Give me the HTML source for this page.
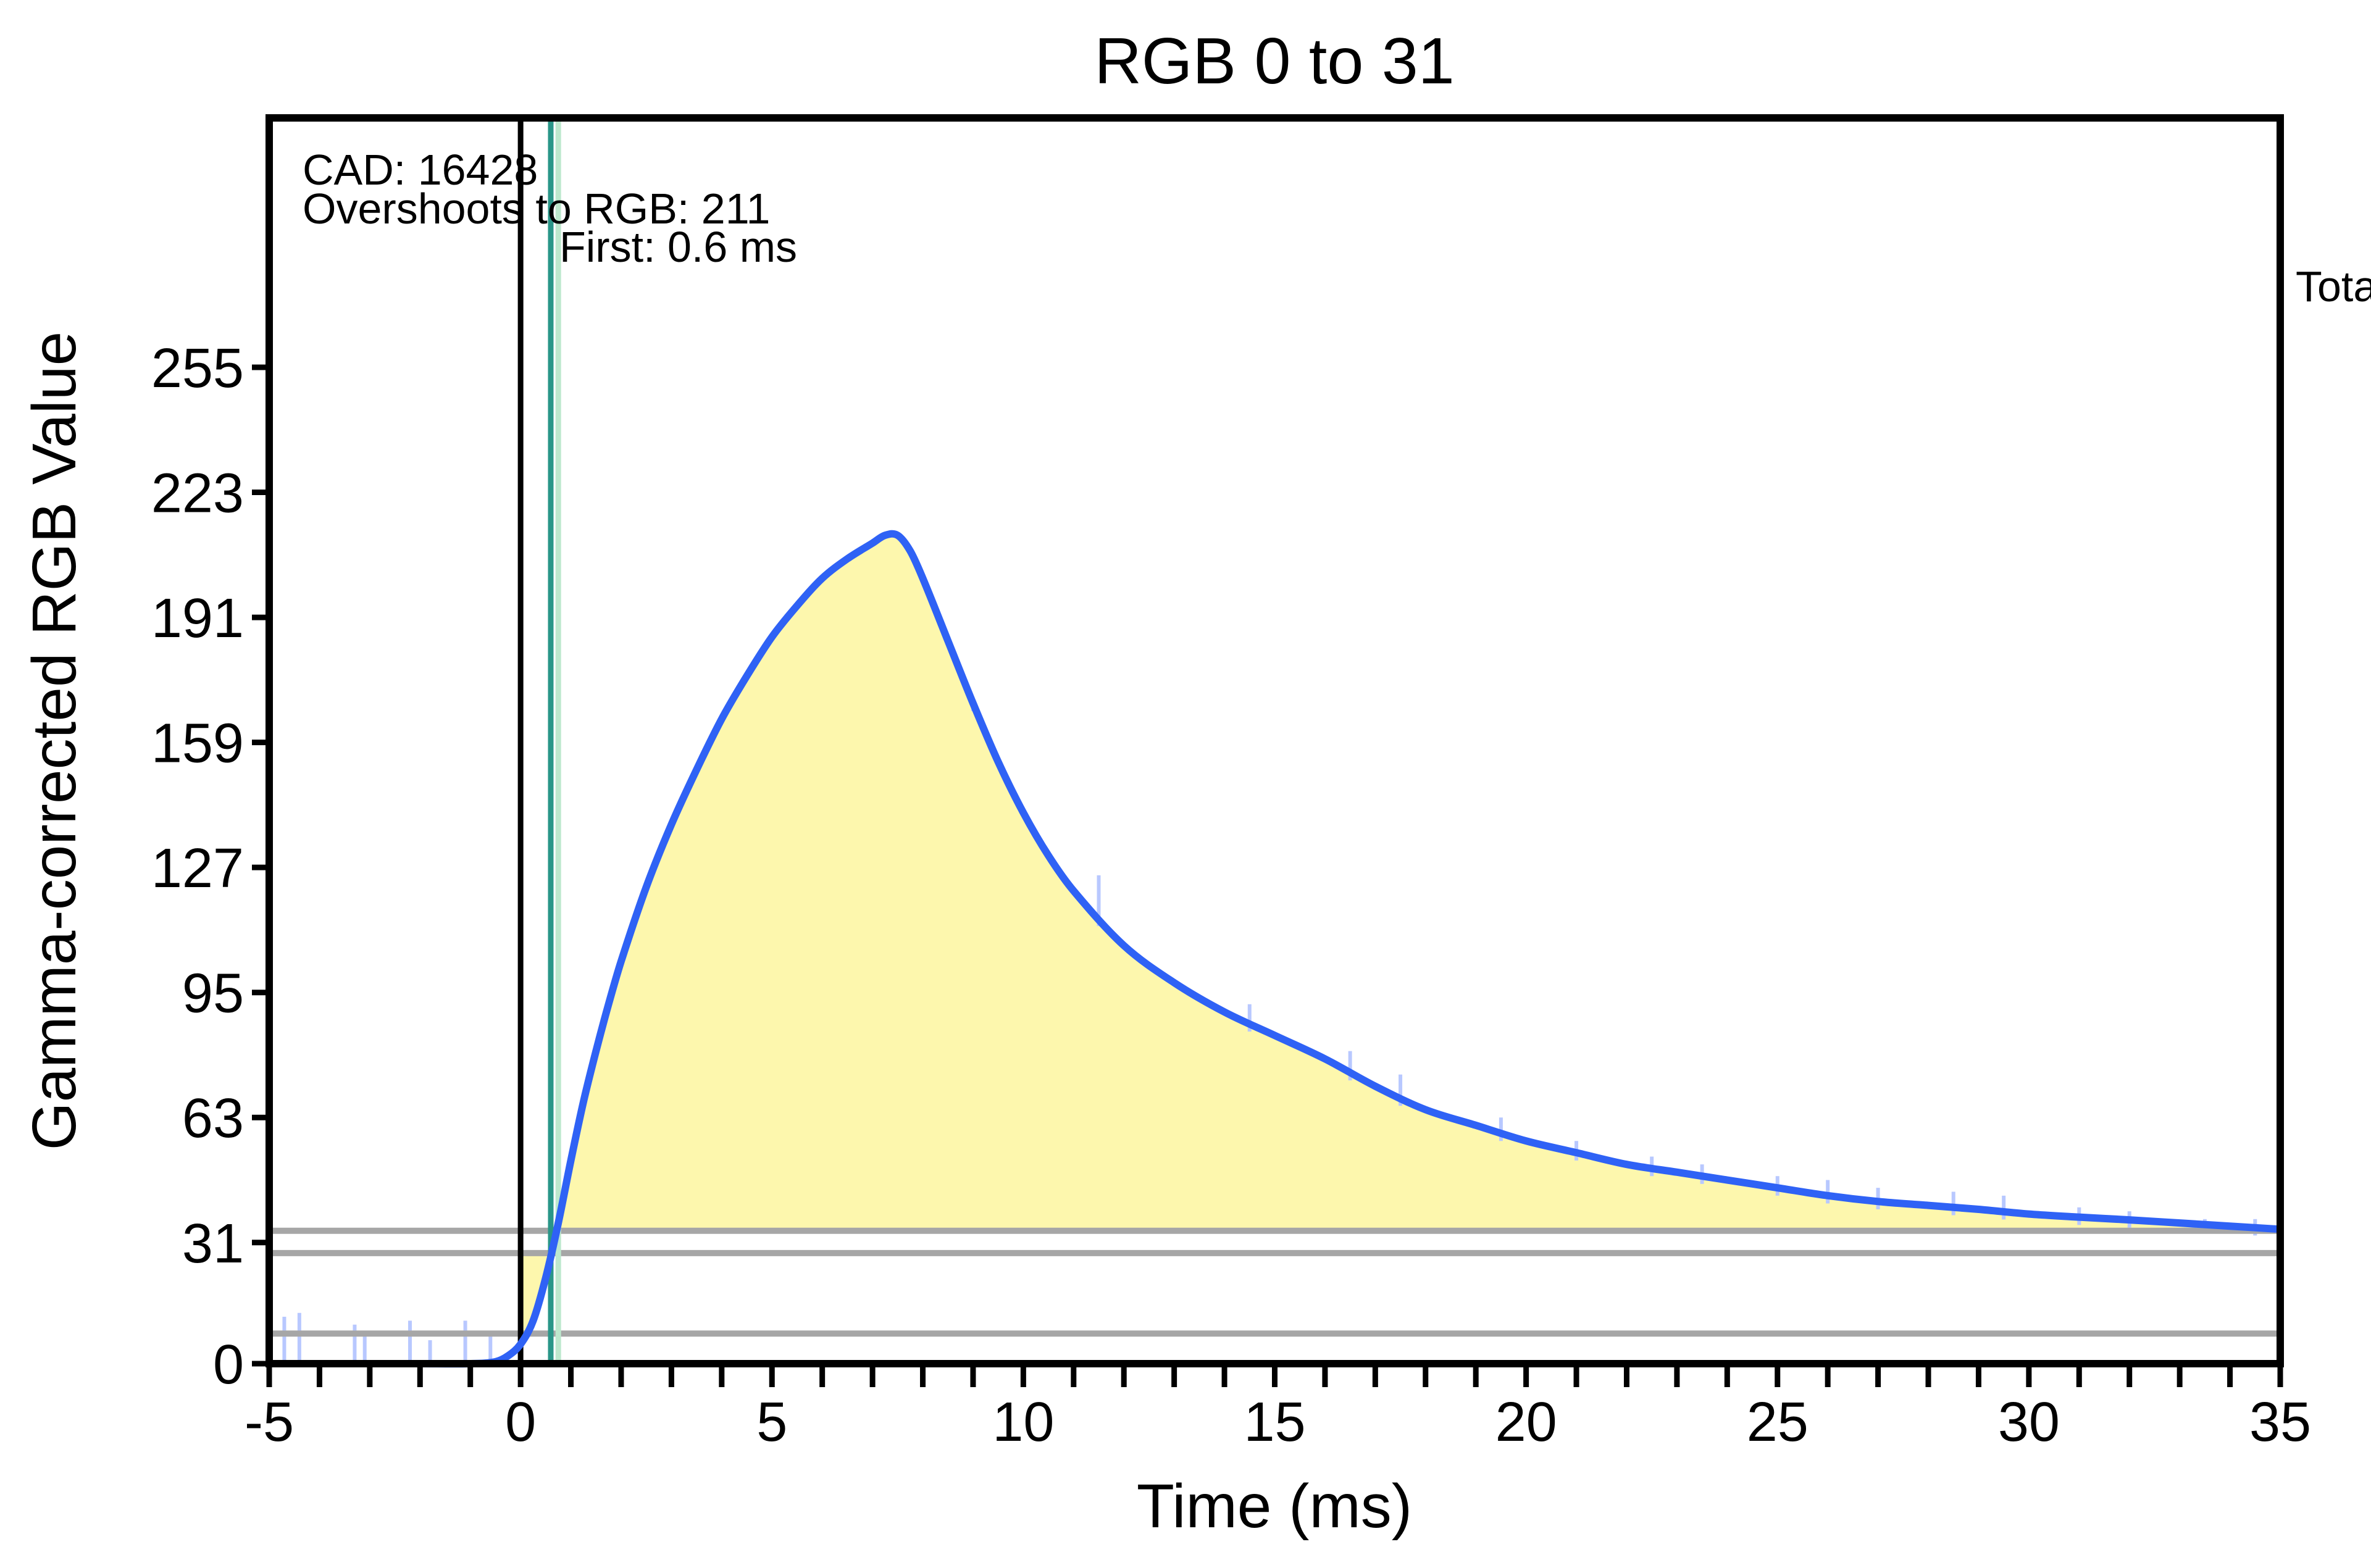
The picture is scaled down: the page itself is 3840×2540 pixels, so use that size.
<!DOCTYPE html>
<html><head><meta charset="utf-8"><style>
html,body{margin:0;padding:0;background:#fff;}
svg{display:block;font-family:"Liberation Sans",sans-serif;}
</style></head><body>
<svg id="chart" width="3840" height="2540" viewBox="0 0 3840 2540" xmlns="http://www.w3.org/2000/svg">
<text x="2064" y="135" font-size="106" text-anchor="middle">RGB 0 to 31</text>
<g id="plot"></g>
<text x="122" y="1200" font-size="100" text-anchor="middle" transform="rotate(-90 122 1200)">Gamma-corrected RGB Value</text>
<text x="2064" y="2474" font-size="100" text-anchor="middle">Time (ms)</text>
<text x="490" y="299" font-size="70">CAD: 16428</text>
<text x="490" y="362" font-size="70">Overshoots to RGB: 211</text>
<text x="906" y="424" font-size="70">First: 0.6 ms</text>
<text x="3718" y="488" font-size="70">Total</text>
</svg>
<script>
const times = [-5,-4,-3,-2,-1,-0.5,-0.25,0,0.25,0.5,0.75,1,1.25,1.5,1.75,2,2.5,3,3.5,4,4.5,5,5.5,6,6.5,7,7.25,7.5,7.75,8,8.5,9,9.5,10,10.5,11,12,13,14,15,16,17,18,19,20,21,22,23,24,25,26,27,28,29,30,31,32,33,34,35];
const values = [0,0,0,0,0,0.5,2,5,11,22,36,52,67,80,92,103,122,138,152,165,176,186,194,201,206,210,212,212,208,201,185,169,154,141,130,121,107,97.5,90,84,78,71,65,61,57,54,51,49,47,45,43,41.5,40.5,39.5,38.3,37.5,36.8,36,35.2,34.4];
const spikeTimes = [-4.7,-4.4,-3.3,-3.1,-2.2,-1.8,-1.1,-0.6,9,11.5,14.5,16.5,17.5,19.5,21,22.5,23.5,25,26,27,28.5,29.5,31,32,33.5,34.5];
const spikeValues = [12,13,10,8,11,6,11,8,170,125,92,80,74,63,57,53,51,48,47,45,44,43,40,39,37,37];
const yTicks = [0,31,63,95,127,159,191,223,255];
const xTicks = [-5,0,5,10,15,20,25,30,35];
const hLines = [34,28.3,7.7];
const firstTime = 0.6, secondTime = 0.75, startTime = 0, fillLevel = 34, lowFillLevel = 28.3;

const L=436,R=3693,T=191,B=2209;
const xs=t=>L+(t+5)*(R-L)/40;
const ys=v=>B-v*(B-595)/255;
const NS="http://www.w3.org/2000/svg";
const plot=document.getElementById('plot');
function mk(tag,attrs){const e=document.createElementNS(NS,tag);for(const k in attrs)e.setAttribute(k,attrs[k]);plot.appendChild(e);return e;}

function interp(t){for(let i=0;i<times.length-1;i++){if(t>=times[i]&&t<=times[i+1]){const f=(t-times[i])/(times[i+1]-times[i]);return values[i]+f*(values[i+1]-values[i]);}}return values[values.length-1];}
let cross=0;for(let t=0;t<35;t+=0.01){if(interp(t)>=fillLevel){cross=t;break;}}
let d=`M${xs(cross)},${ys(fillLevel)}`;
for(let t=cross;t<=35;t+=0.05)d+=` L${xs(t)},${ys(interp(t))}`;
d+=` L${xs(35)},${ys(fillLevel)} Z`;
let f1=mk('path',{d:d,fill:'#fdf7ad'});


let c2=0;for(let t=0;t<35;t+=0.01){if(interp(t)>=lowFillLevel){c2=t;break;}}
let d2=`M${xs(startTime)},${ys(lowFillLevel)}`;
for(let t=startTime;t<=c2;t+=0.02)d2+=` L${xs(t)},${ys(interp(t))}`;
d2+=` L${xs(c2)},${ys(lowFillLevel)} Z`;
let f2=mk('path',{d:d2,fill:'#fdf7ad'});



spikeTimes.forEach((t,i)=>{
 let s=mk('line',{x1:xs(t),x2:xs(t),y1:ys(Math.max(interp(t)-2,0)),y2:ys(spikeValues[i]),stroke:'#b8c8ff','stroke-width':6});
 
 
});

hLines.forEach(v=>{
 let h=mk('line',{x1:L,x2:R,y1:ys(v),y2:ys(v),stroke:'#a6a6a6','stroke-width':10});
 
 
});
let v0=mk('line',{x1:xs(startTime),x2:xs(startTime),y1:T,y2:B,stroke:'#000','stroke-width':9});


let v2=mk('line',{x1:xs(secondTime),x2:xs(secondTime),y1:T,y2:B,stroke:'#bde8cd','stroke-width':9});


let v1=mk('line',{x1:xs(firstTime),x2:xs(firstTime),y1:T,y2:B,stroke:'#2a9688','stroke-width':9});



let pts=times.map((t,i)=>[xs(t),ys(values[i])]);
let cd=`M${pts[0][0]},${pts[0][1]}`;
for(let i=0;i<pts.length-1;i++){const p0=pts[Math.max(i-1,0)],p1=pts[i],p2=pts[i+1],p3=pts[Math.min(i+2,pts.length-1)];
 const k=(p2[0]-p1[0]);
 const s1=(p2[1]-p0[1])/(p2[0]-p0[0]||1), s2=(p3[1]-p1[1])/(p3[0]-p1[0]||1);
 cd+=` C${p1[0]+k/3},${p1[1]+s1*k/3} ${p2[0]-k/3},${p2[1]-s2*k/3} ${p2[0]},${p2[1]}`;}
let cv=mk('path',{d:cd,fill:'none',stroke:'#2f62f5','stroke-width':12,'stroke-linejoin':'round'});



let fr=mk('rect',{x:L,y:T,width:R-L,height:B-T,fill:'none',stroke:'#000','stroke-width':12});



for(let t=-5;t<=35;t++){
 let tk=mk('line',{x1:xs(t),x2:xs(t),y1:B,y2:B+38,stroke:'#000','stroke-width':9});
 
 
}
xTicks.forEach(t=>{
 let tx=mk('text',{x:xs(t),y:2334,'font-size':90,'text-anchor':'middle'});tx.textContent=String(t);
 
 
});
yTicks.forEach(v=>{
 let tk=mk('line',{x1:L-28,x2:L,y1:ys(v),y2:ys(v),stroke:'#000','stroke-width':9});
 
 
 let tx=mk('text',{x:395,y:ys(v)+32,'font-size':90,'text-anchor':'end'});tx.textContent=String(v);
 
 
});
</script>
</body></html>
